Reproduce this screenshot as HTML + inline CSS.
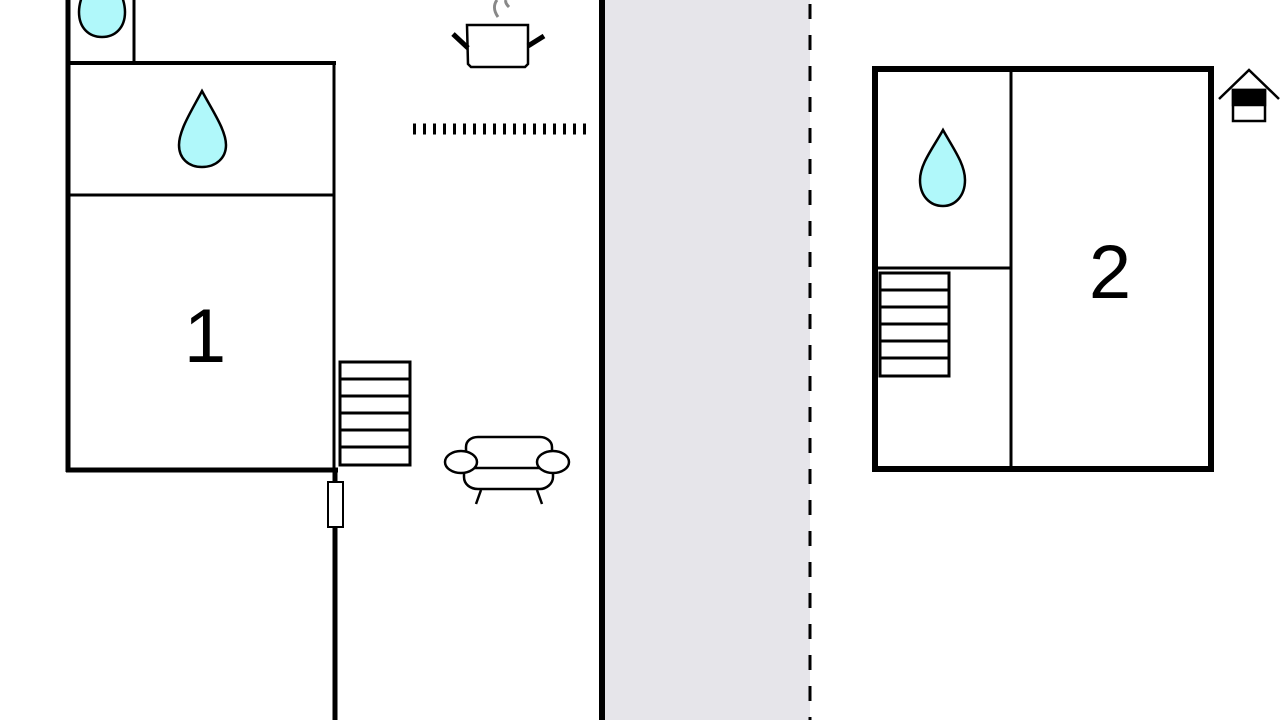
<!DOCTYPE html>
<html><head><meta charset="utf-8"><style>html,body{margin:0;padding:0;background:#fff;}svg{display:block}</style></head>
<body>
<svg width="1280" height="720" viewBox="0 0 1280 720" xmlns="http://www.w3.org/2000/svg" font-family="Liberation Sans, sans-serif">
<rect x="0" y="0" width="1280" height="720" fill="#fff"/>
<rect x="605" y="0" width="205" height="720" fill="#e6e5ea"/>
<line x1="602" y1="0" x2="602" y2="720" stroke="#000" stroke-width="6"/>
<line x1="810" y1="0" x2="810" y2="720" stroke="#000" stroke-width="3" stroke-dasharray="15 16" stroke-dashoffset="-4"/>
<g fill="none" stroke="#000">
<line x1="68" y1="0" x2="68" y2="472" stroke-width="5"/>
<line x1="134" y1="0" x2="134" y2="63" stroke-width="3"/>
<line x1="68" y1="63" x2="336" y2="63" stroke-width="4"/>
<line x1="334" y1="63" x2="334" y2="470" stroke-width="3"/>
<line x1="68" y1="195" x2="334" y2="195" stroke-width="3"/>
<line x1="66" y1="470" x2="338" y2="470" stroke-width="5"/>
<line x1="335" y1="470" x2="335" y2="720" stroke-width="5"/>
<rect x="328" y="482" width="15" height="45" fill="#fff" stroke-width="2"/>
<rect x="340" y="362" width="70" height="103" stroke-width="3"/>
<line x1="340" y1="379" x2="410" y2="379" stroke-width="3"/>
<line x1="340" y1="396" x2="410" y2="396" stroke-width="3"/>
<line x1="340" y1="413" x2="410" y2="413" stroke-width="3"/>
<line x1="340" y1="430" x2="410" y2="430" stroke-width="3"/>
<line x1="340" y1="447" x2="410" y2="447" stroke-width="3"/>
</g>
<path d="M202,91 C212,110 226,130 226,145 C226,158 216,167 202,167 C188,167 179,158 179,145 C179,130 192,110 202,91 Z" fill="#b0f8fa" stroke="#000" stroke-width="2.5"/>
<path d="M102,-40 C113,-21 125,-5 125,12 C125,28 115,37 102,37 C89,37 79,28 79,12 C79,-5 91,-21 102,-40 Z" fill="#b0f8fa" stroke="#000" stroke-width="2.5"/>
<path d="M943,130 C953,148 965,164 965,180 C965,196 955,206 943,206 C930,206 920,196 920,180 C920,164 933,148 943,130 Z" fill="#b0f8fa" stroke="#000" stroke-width="2.5"/>
<g stroke="#000" fill="none">
<path d="M467,25 L468,64 L471,67 L525,67 L528,64 L528,25 Z" stroke-width="2.5" fill="#fff"/>
<line x1="453" y1="34" x2="468" y2="48" stroke-width="5"/>
<line x1="528" y1="46" x2="544" y2="36" stroke-width="5"/>
<path d="M498,17 C493,10 494,4 497,0" stroke="#888" stroke-width="3"/>
<path d="M509,7 C506,4 505,2 506,0" stroke="#888" stroke-width="3"/>
</g>
<line x1="413" y1="129" x2="592" y2="129" stroke="#000" stroke-width="11" stroke-dasharray="3 7"/>
<g stroke="#000" stroke-width="2.5" fill="#fff">
<path d="M464,465 L464,477 C464,484 470,489 478,489 L540,489 C546,489 553,484 553,477 L553,465 Z"/>
<path d="M466,468 L466,447 C466,441 471,437 478,437 L540,437 C546,437 552,441 552,447 L552,468 Z"/>
<ellipse cx="461" cy="462" rx="16" ry="11"/>
<ellipse cx="553" cy="462" rx="16" ry="11"/>
<line x1="481" y1="490" x2="476" y2="504"/>
<line x1="537" y1="490" x2="542" y2="504"/>
</g>
<text x="205" y="362" font-size="76" text-anchor="middle">1</text>
<g fill="none" stroke="#000">
<rect x="875" y="69" width="336" height="400" stroke-width="6"/>
<line x1="1011" y1="69" x2="1011" y2="469" stroke-width="3"/>
<line x1="875" y1="268" x2="1011" y2="268" stroke-width="3"/>
<rect x="880" y="273" width="69" height="103" stroke-width="3"/>
<line x1="880" y1="290" x2="949" y2="290" stroke-width="3"/>
<line x1="880" y1="307" x2="949" y2="307" stroke-width="3"/>
<line x1="880" y1="324" x2="949" y2="324" stroke-width="3"/>
<line x1="880" y1="341" x2="949" y2="341" stroke-width="3"/>
<line x1="880" y1="358" x2="949" y2="358" stroke-width="3"/>
</g>
<text x="1110" y="298" font-size="76" text-anchor="middle">2</text>
<g stroke="#000" stroke-width="2.5">
<polyline points="1219,99 1249,70 1279,99" fill="none"/>
<rect x="1233" y="90" width="32" height="31" fill="#fff"/>
<rect x="1233" y="90" width="32" height="15" fill="#000"/>
</g>
</svg>
</body></html>
